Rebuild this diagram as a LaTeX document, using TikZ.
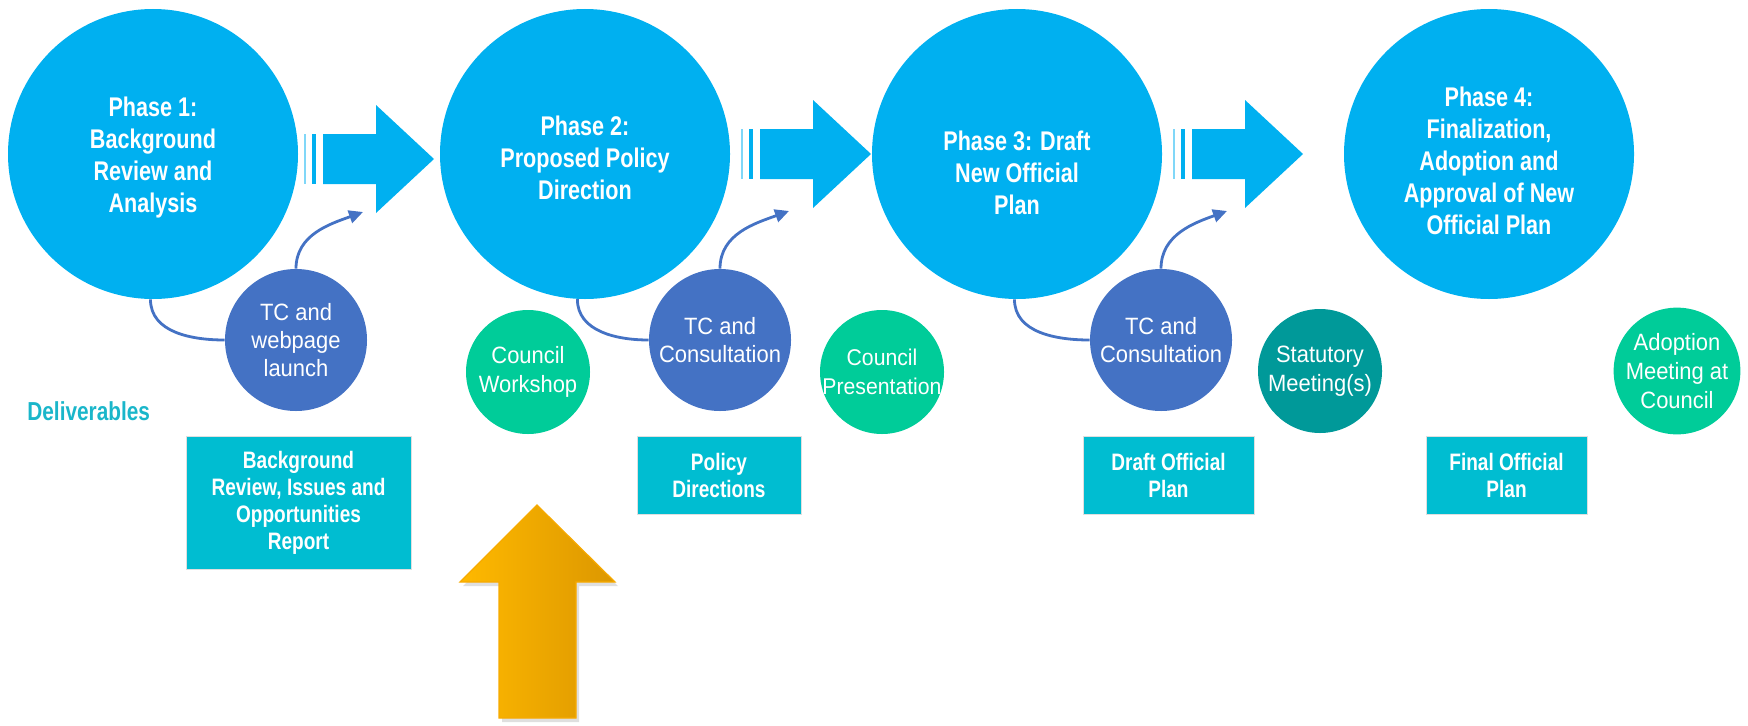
\documentclass[tikz,border=0pt]{standalone}
\usepackage{fontspec}
\usepackage{tikz}
\usetikzlibrary{arrows.meta, positioning, shadows}
\newfontfamily\narrowsf[FakeStretch=0.8]{Liberation Sans}
\newfontfamily\circsf[FakeStretch=0.93]{Liberation Sans}
\definecolor{phaseblue}{HTML}{00B0F0}
\definecolor{tcblue}{HTML}{4472C4}
\definecolor{mint}{HTML}{00CC99}
\definecolor{darkteal}{HTML}{009999}
\definecolor{boxteal}{HTML}{00BDD1}
\definecolor{delivtext}{HTML}{1AB6CA}
\definecolor{orangeL}{HTML}{FFB900}
\definecolor{orangeR}{HTML}{DC9700}
\definecolor{orangeedge}{HTML}{F7AA00}

\begin{document}
\begin{tikzpicture}[
    x=0.5pt, y=0.5pt,
    phase/.style={circle, fill=phaseblue, minimum size=145pt, inner sep=0pt},
    phasetext/.style={align=center, text=white, font=\narrowsf\bfseries\fontsize{13.5}{16}\selectfont},
    tc/.style={circle, fill=tcblue, minimum size=71pt, inner sep=0pt, align=center, text=white, font=\circsf\fontsize{11.8}{14}\selectfont},
    council/.style={circle, fill=mint, minimum size=62pt, inner sep=0pt, align=center, text=white, font=\circsf\fontsize{11.8}{14.5}\selectfont},
    deliv/.style={rectangle, fill=boxteal, draw=gray!25, line width=0.4pt, align=center, text=white, inner sep=0pt, font=\narrowsf\bfseries\fontsize{11.9}{13.5}\selectfont},
    link/.style={draw=tcblue, line width=1.4pt},
    >={Triangle[length=7pt, width=6.5pt]}
]
    \useasboundingbox (0,0) rectangle (1748,725);

    % Phase circles
    \node[phase] (p1) at (153,571) {};
    \node[phase] (p2) at (585,571) {};
    \node[phase] (p3) at (1017,571) {};
    \node[phase] (p4) at (1489,571) {};
    \node[phasetext] (p1t) at (153,567) {Phase 1:\\Background\\Review and\\Analysis};
    \node[phasetext] (p2t) at (585,567) {Phase 2:\\Proposed Policy\\Direction};
    \node[phasetext] (p3t) at (1017,552) {Phase 3: Draft\\New Official\\Plan};
    \node[phasetext] (p4t) at (1489,564) {Phase 4:\\Finalization,\\Adoption and\\Approval of New\\Official Plan};

    % Block arrows between phases
    \foreach \xs/\yt in {323/591, 760/596, 1192/596}{
        \fill[phaseblue!50] (\xs-19,\yt) rectangle (\xs-17,\yt-50);
        \fill[phaseblue] (\xs-11,\yt) rectangle (\xs-7,\yt-50);
        \fill[phaseblue] (\xs,\yt) -- (\xs+53,\yt) -- (\xs+53,\yt+29) -- (\xs+111,\yt-25)
            -- (\xs+53,\yt-79) -- (\xs+53,\yt-50) -- (\xs,\yt-50) -- cycle;
    }

    % Engagement circles
    \node[tc] (tc1) at (296,385) {TC and\\webpage\\launch};
    \node[tc] (tc2) at (720,385) {TC and\\Consultation};
    \node[tc] (tc3) at (1161,385) {TC and\\Consultation};
    \node[council] (cw) at (528,353) {Council\\Workshop};
    \node[council, inner sep=-3pt, font=\circsf\fontsize{11.4}{14.5}\selectfont] (cp) at (882,353) {Council\\Presentation};
    \node[council, fill=darkteal] (st) at (1320,354) {Statutory\\Meeting(s)};
    \node[council] (ad) at (1677,354) {Adoption\\Meeting at\\Council};

    % Connectors
    \coordinate (a1) at (363,513);
    \coordinate (a2) at (789,514);
    \coordinate (a3) at (1227,514);
    \draw[link] (p1.-91) to[out=-90, in=180] (tc1.west);
    \draw[link] (p2.-93) to[out=-90, in=180] (tc2.west);
    \draw[link] (p3.-91) to[out=-90, in=180] (tc3.west);
    \draw[link, ->] (tc1.north) to[out=90, in=200] (a1);
    \draw[link, ->] (tc2.north) to[out=90, in=200] (a2);
    \draw[link, ->] (tc3.north) to[out=90, in=200] (a3);

    % Deliverables
    \node[anchor=west, inner sep=0pt, text=delivtext, font=\narrowsf\bfseries\fontsize{13}{15}\selectfont] (dl) at (27,314) {Deliverables};
    \node[deliv, minimum width=112.5pt, minimum height=66.5pt] (d1) at (298.5,222.5) {Background\\Review, Issues and\\Opportunities\\Report};
    \node[deliv, minimum width=82pt, minimum height=39pt] (d2) at (719,250) {Policy\\Directions};
    \node[deliv, minimum width=85.5pt, minimum height=39pt] (d3) at (1168.5,250) {Draft Official\\Plan};
    \node[deliv, minimum width=80.5pt, minimum height=39pt] (d4) at (1506.5,250) {Final Official\\Plan};

    % Current stage marker
    \shade[left color=orangeL, right color=orangeR, draw=orangeedge, line width=0.6pt,
        drop shadow={opacity=0.25, shadow xshift=1.5pt, shadow yshift=-2pt}]
        (537,220) -- (615,143) -- (576,143) -- (576,7) -- (499,7) -- (499,143) -- (460,143) -- cycle;
\end{tikzpicture}
\end{document}
